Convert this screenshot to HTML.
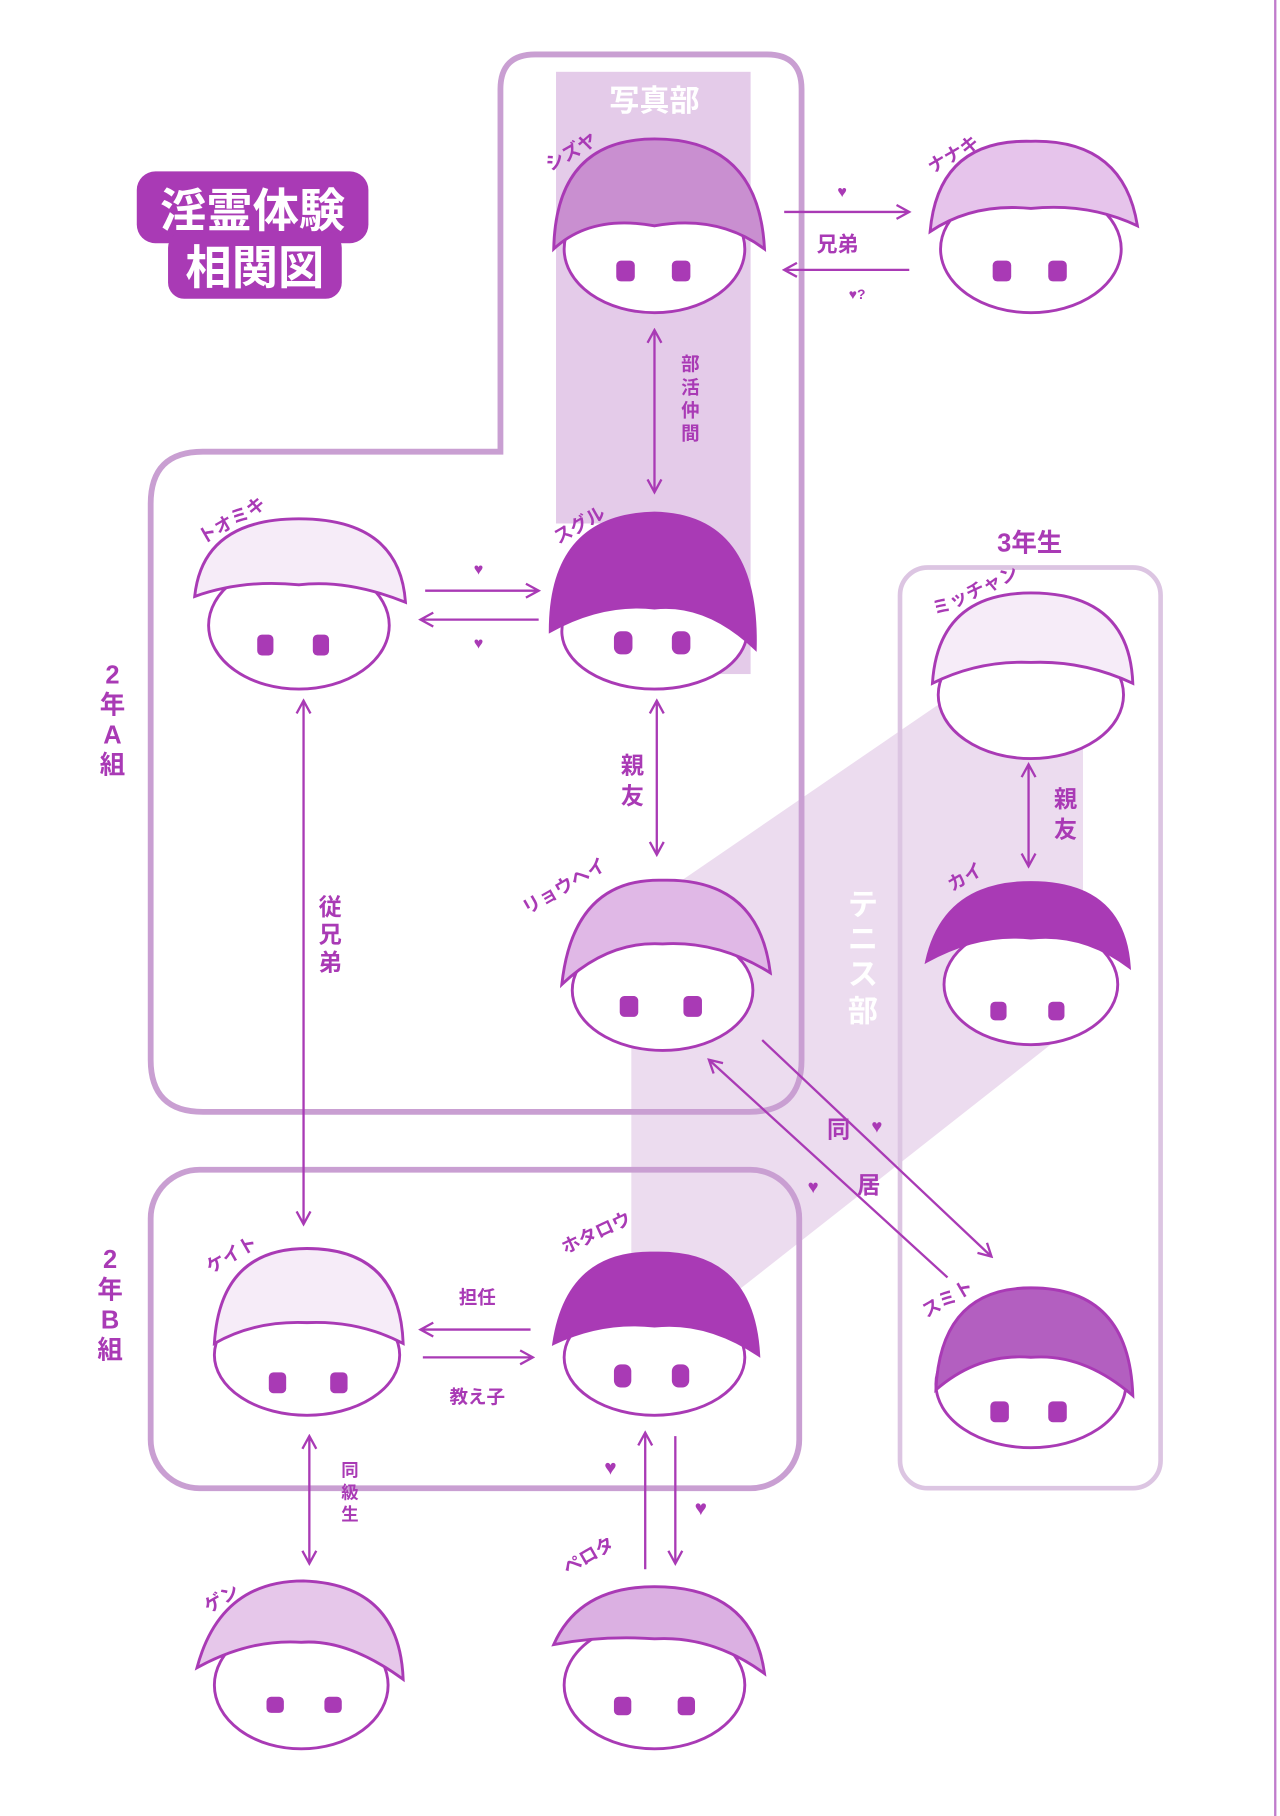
<!DOCTYPE html>
<html><head><meta charset="utf-8"><style>
html,body{margin:0;padding:0;background:#fff;}
svg{display:block}
text{font-family:"Liberation Sans","Noto Sans CJK JP",sans-serif;font-weight:bold}
</style></head><body>
<svg width="1280" height="1816" viewBox="0 0 1105 1568" xmlns="http://www.w3.org/2000/svg">
<defs>
<marker id="ah" markerWidth="14" markerHeight="14" refX="12" refY="7" orient="auto-start-reverse" markerUnits="userSpaceOnUse"><path d="M1,1 L12,7 L1,13" fill="none" stroke="#a93ab5" stroke-width="2"/></marker>
</defs>
<rect width="1105" height="1568" fill="#fff"/>
<line x1="1101" y1="0" x2="1101" y2="1568" stroke="#c07ccc" stroke-width="2"/>
<!-- tennis band -->
<polygon points="545,790 815,605 935,640 935,880 640,1112 545,1112" fill="#ecdcef"/>
<!-- photo stripe -->
<rect x="480" y="62" width="168" height="390" fill="#e4cbe9"/>
<rect x="545" y="452" width="103" height="130" fill="#e4cbe9"/>
<text x="565" y="96" font-size="26" fill="#fff" text-anchor="middle">写真部</text>
<!-- boxes -->
<path d="M462,47 H662 Q692,47 692,77 V915 Q692,960 647,960 H175 Q130,960 130,915 V435 Q130,390 175,390 H432 V77 Q432,47 462,47 Z" fill="none" stroke="#c99fd2" stroke-width="5"/>
<rect x="130" y="1010" width="560" height="275" rx="42" fill="none" stroke="#c99fd2" stroke-width="5"/>
<rect x="777" y="490" width="225" height="795" rx="24" fill="none" stroke="#dcc5e2" stroke-width="4"/>
<text x="889" y="476" font-size="22" fill="#a93ab5" text-anchor="middle">3年生</text>
<g font-size="22" fill="#a93ab5" text-anchor="middle"><text x="97" y="590">2</text><text x="97" y="616">年</text><text x="97" y="642">A</text><text x="97" y="668">組</text>
<text x="95" y="1095">2</text><text x="95" y="1121">年</text><text x="95" y="1147">B</text><text x="95" y="1173">組</text></g>
<g font-size="26" fill="#fff" text-anchor="middle"><text x="745" y="790">テ</text><text x="745" y="820">ニ</text><text x="745" y="850">ス</text><text x="745" y="882">部</text></g>
<!-- title -->
<rect x="118" y="148" width="200" height="62" rx="16" fill="#a93ab5"/>
<rect x="145" y="200" width="150" height="58" rx="14" fill="#a93ab5"/>
<text x="218" y="196" font-size="40" fill="#fff" text-anchor="middle">淫霊体験</text>
<text x="220" y="245" font-size="40" fill="#fff" text-anchor="middle">相関図</text>
<!-- arrows -->
<g stroke="#a93ab5" stroke-width="2" fill="none">
<line x1="677" y1="183" x2="785" y2="183" marker-end="url(#ah)"/>
<line x1="785" y1="233" x2="677" y2="233" marker-end="url(#ah)"/>
<line x1="565" y1="285" x2="565" y2="425" marker-start="url(#ah)" marker-end="url(#ah)"/>
<line x1="367" y1="510" x2="465" y2="510" marker-end="url(#ah)"/>
<line x1="465" y1="535" x2="363" y2="535" marker-end="url(#ah)"/>
<line x1="567" y1="605" x2="567" y2="738" marker-start="url(#ah)" marker-end="url(#ah)"/>
<line x1="262" y1="605" x2="262" y2="1057" marker-start="url(#ah)" marker-end="url(#ah)"/>
<line x1="888" y1="660" x2="888" y2="748" marker-start="url(#ah)" marker-end="url(#ah)"/>
<line x1="658" y1="898" x2="856" y2="1085" marker-end="url(#ah)"/>
<line x1="818" y1="1103" x2="612" y2="915" marker-end="url(#ah)"/>
<line x1="458" y1="1148" x2="363" y2="1148" marker-end="url(#ah)"/>
<line x1="365" y1="1172" x2="460" y2="1172" marker-end="url(#ah)"/>
<line x1="267" y1="1240" x2="267" y2="1350" marker-start="url(#ah)" marker-end="url(#ah)"/>
<line x1="557" y1="1355" x2="557" y2="1237" marker-end="url(#ah)"/>
<line x1="583" y1="1240" x2="583" y2="1350" marker-end="url(#ah)"/>
</g>
<!-- labels -->
<g fill="#a93ab5" text-anchor="middle">
<text x="723" y="217" font-size="18">兄弟</text>
<text x="727" y="170" font-size="14">♥</text><text x="740" y="258" font-size="12">♥?</text>
<text x="413" y="496" font-size="14">♥</text><text x="413" y="560" font-size="14">♥</text>
<g font-size="16"><text x="596" y="320">部</text><text x="596" y="340">活</text><text x="596" y="360">仲</text><text x="596" y="380">間</text></g>
<g font-size="20"><text x="546" y="668">親</text><text x="546" y="694">友</text>
<text x="920" y="697">親</text><text x="920" y="723">友</text>
<text x="285" y="790">従</text><text x="285" y="814">兄</text><text x="285" y="838">弟</text>
<text x="724" y="982">同</text><text x="750" y="1030">居</text></g>
<text x="757" y="978" font-size="16">♥</text><text x="702" y="1030" font-size="16">♥</text>
<text x="412" y="1126" font-size="16">担任</text><text x="412" y="1212" font-size="16">教え子</text>
<g font-size="15"><text x="302" y="1275">同</text><text x="302" y="1294">級</text><text x="302" y="1313">生</text></g>
<text x="527" y="1273" font-size="18">♥</text><text x="605" y="1308" font-size="18">♥</text>
</g>
<!-- faces -->
<g stroke="#a93ab5" stroke-width="2.5">
<g><ellipse cx="565" cy="215" rx="78" ry="55" fill="#fff"/><path d="M478,215 Q480,120 565,120 Q655,120 660,215 Q620,185 565,195 Q510,185 478,215Z" fill="#c98fd0"/></g>
<g><ellipse cx="890" cy="215" rx="78" ry="55" fill="#fff"/><path d="M803,200 Q810,120 890,122 Q970,120 982,195 Q940,175 890,180 Q840,175 803,200Z" fill="#e6c4eb"/></g>
<g><ellipse cx="258" cy="540" rx="78" ry="55" fill="#fff"/><path d="M168,515 Q175,448 258,448 Q345,448 350,520 Q300,500 258,505 Q210,500 168,515Z" fill="#f6ecf8"/></g>
<g><ellipse cx="565" cy="545" rx="80" ry="50" fill="#fff"/><path d="M475,545 Q475,445 565,443 Q655,445 652,560 Q610,520 565,525 Q520,520 475,545Z" fill="#a93ab5"/></g>
<g><ellipse cx="890" cy="600" rx="80" ry="55" fill="#fff"/><path d="M805,590 Q810,512 890,512 Q975,512 978,590 Q935,570 890,572 Q845,570 805,590Z" fill="#f6ecf8"/></g>
<g><ellipse cx="890" cy="850" rx="75" ry="52" fill="#fff"/><path d="M800,830 Q815,762 890,762 Q970,762 975,835 Q935,805 890,810 Q845,805 800,830Z" fill="#a93ab5"/></g>
<g><ellipse cx="572" cy="855" rx="78" ry="52" fill="#fff"/><path d="M485,850 Q495,758 572,760 Q655,758 665,840 Q620,812 572,815 Q525,812 485,850Z" fill="#e0b8e6"/></g>
<g><ellipse cx="265" cy="1170" rx="80" ry="52" fill="#fff"/><path d="M185,1160 Q190,1078 265,1078 Q345,1078 348,1160 Q310,1140 265,1142 Q220,1140 185,1160Z" fill="#f6ecf8"/></g>
<g><ellipse cx="565" cy="1172" rx="78" ry="50" fill="#fff"/><path d="M478,1160 Q490,1080 565,1082 Q650,1080 655,1170 Q610,1140 565,1145 Q520,1140 478,1160Z" fill="#a93ab5"/></g>
<g><ellipse cx="890" cy="1195" rx="82" ry="55" fill="#fff"/><path d="M808,1200 Q812,1112 890,1112 Q975,1112 978,1205 Q935,1168 890,1172 Q845,1168 808,1200Z" fill="#b35fc0"/></g>
<g><ellipse cx="260" cy="1455" rx="75" ry="55" fill="#fff"/><path d="M170,1440 Q190,1365 262,1365 Q345,1368 348,1450 Q300,1415 260,1418 Q215,1415 170,1440Z" fill="#e6c7ea"/></g>
<g><ellipse cx="565" cy="1455" rx="78" ry="55" fill="#fff"/><path d="M478,1420 Q500,1370 565,1370 Q650,1370 660,1445 Q615,1412 565,1415 Q520,1412 478,1420Z" fill="#dbb0e2"/></g>
</g>
<!-- eyes -->
<g fill="#a93ab5">
<rect x="532" y="225" width="16" height="18" rx="4"/><rect x="580" y="225" width="16" height="18" rx="4"/>
<rect x="857" y="225" width="16" height="18" rx="4"/><rect x="905" y="225" width="16" height="18" rx="4"/>
<rect x="222" y="548" width="14" height="18" rx="4"/><rect x="270" y="548" width="14" height="18" rx="4"/>
<rect x="530" y="545" width="16" height="20" rx="6"/><rect x="580" y="545" width="16" height="20" rx="6"/>
<rect x="855" y="865" width="14" height="16" rx="4"/><rect x="905" y="865" width="14" height="16" rx="4"/>
<rect x="535" y="860" width="16" height="18" rx="4"/><rect x="590" y="860" width="16" height="18" rx="4"/>
<rect x="232" y="1185" width="15" height="18" rx="4"/><rect x="285" y="1185" width="15" height="18" rx="4"/>
<rect x="530" y="1178" width="15" height="20" rx="6"/><rect x="580" y="1178" width="15" height="20" rx="6"/>
<rect x="855" y="1210" width="16" height="18" rx="4"/><rect x="905" y="1210" width="16" height="18" rx="4"/>
<rect x="230" y="1465" width="15" height="14" rx="4"/><rect x="280" y="1465" width="15" height="14" rx="4"/>
<rect x="530" y="1465" width="15" height="16" rx="4"/><rect x="585" y="1465" width="15" height="16" rx="4"/>
</g>
<!-- name tags -->
<g fill="#a93ab5" font-size="16">
<text x="475" y="148" transform="rotate(-30 475 148)">シズヤ</text>
<text x="805" y="150" transform="rotate(-30 805 150)">ナナキ</text>
<text x="175" y="470" transform="rotate(-30 175 470)">トオミキ</text>
<text x="482" y="470" transform="rotate(-30 482 470)">スグル</text>
<text x="808" y="532" transform="rotate(-25 808 532)">ミッチャン</text>
<text x="822" y="770" transform="rotate(-30 822 770)">カイ</text>
<text x="455" y="790" transform="rotate(-30 455 790)">リョウヘイ</text>
<text x="182" y="1100" transform="rotate(-30 182 1100)">ケイト</text>
<text x="488" y="1083" transform="rotate(-25 488 1083)">ホタロウ</text>
<text x="800" y="1138" transform="rotate(-30 800 1138)">スミト</text>
<text x="180" y="1393" transform="rotate(-30 180 1393)">ゲン</text>
<text x="490" y="1360" transform="rotate(-30 490 1360)">ペロタ</text>
</g>
</svg>
</body></html>
